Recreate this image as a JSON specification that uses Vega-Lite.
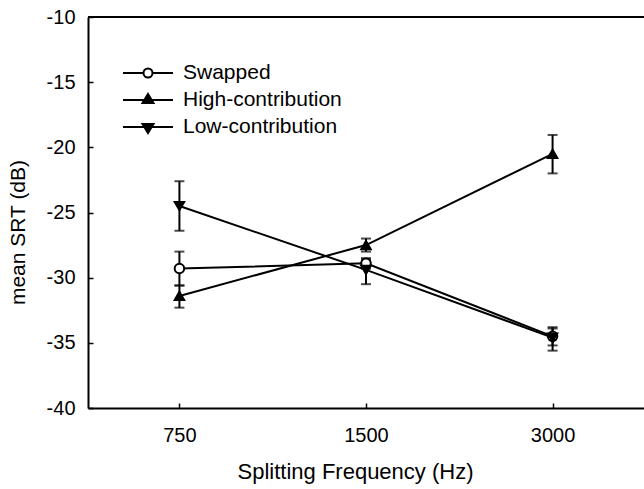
{
  "$schema": "https://vega.github.io/schema/vega-lite/v6.json",
  "width": 556,
  "height": 391,
  "autosize": {"type": "none"},
  "padding": {"left": 88, "top": 17, "right": 0, "bottom": 81},
  "background": "white",
  "config": {
    "view": {"stroke": null},
    "font": "Liberation Sans",
    "axis": {
      "domainColor": "black", "domainWidth": 2,
      "tickColor": "black", "tickWidth": 1.5, "tickSize": -5,
      "labelFont": "Liberation Sans", "labelFontSize": 20, "labelColor": "black",
      "titleFont": "Liberation Sans", "titleFontSize": 21, "titleFontWeight": "normal", "titleColor": "black",
      "grid": false
    },
    "legend": {
      "labelFont": "Liberation Sans", "labelFontSize": 21, "labelColor": "black",
      "symbolSize": 400, "symbolStrokeWidth": 2, "symbolStrokeColor": "black",
      "symbolFillColor": "transparent", "symbolOpacity": 1,
      "labelOffset": 24, "rowPadding": 6, "padding": 0
    }
  },
  "data": {
    "values": [
      {"series": "Swapped", "freq": 750, "mean": -29.3, "lo": -30.6, "hi": -28.0},
      {"series": "Swapped", "freq": 1500, "mean": -28.9, "lo": -29.3, "hi": -28.5},
      {"series": "Swapped", "freq": 3000, "mean": -34.5, "lo": -35.2, "hi": -33.8},
      {"series": "High-contribution", "freq": 750, "mean": -31.4, "lo": -32.3, "hi": -30.6},
      {"series": "High-contribution", "freq": 1500, "mean": -27.5, "lo": -28.0, "hi": -27.0},
      {"series": "High-contribution", "freq": 3000, "mean": -20.5, "lo": -22.0, "hi": -19.05},
      {"series": "Low-contribution", "freq": 750, "mean": -24.5, "lo": -26.4, "hi": -22.6},
      {"series": "Low-contribution", "freq": 1500, "mean": -29.4, "lo": -30.5, "hi": -28.6},
      {"series": "Low-contribution", "freq": 3000, "mean": -34.6, "lo": -35.6, "hi": -33.9}
    ]
  },
  "resolve": {"scale": {"shape": "independent"}},
  "layer": [
    {
      "mark": {"type": "rule", "color": "black", "strokeWidth": 2},
      "encoding": {
        "x": {"field": "freq", "type": "ordinal", "scale": {"type": "point", "padding": 0.49},
              "axis": {"title": "Splitting Frequency (Hz)", "labelAngle": 0, "labelPadding": 22, "titlePadding": 16,
                       "titleFontSize": 22, "titleX": 267,
                       "encode": {"ticks": {"y2": {"value": -5}}}}},
        "y": {"field": "lo", "type": "quantitative", "title": "mean SRT (dB)", "scale": {"domain": [-40, -10], "nice": false},
              "axis": {"values": [-40, -35, -30, -25, -20, -15, -10], "labelExpr": "toString(datum.value)", "labelPadding": 18, "titlePadding": 18,
                       "titleY": 215,
                       "encode": {"ticks": {"x2": {"value": 5}}}}},
        "y2": {"field": "hi"}
      }
    },
    {
      "mark": {"type": "tick", "color": "black", "thickness": 2, "size": 10},
      "encoding": {
        "x": {"field": "freq", "type": "ordinal"},
        "y": {"field": "lo", "type": "quantitative", "title": "mean SRT (dB)"}
      }
    },
    {
      "mark": {"type": "tick", "color": "black", "thickness": 2, "size": 10},
      "encoding": {
        "x": {"field": "freq", "type": "ordinal"},
        "y": {"field": "hi", "type": "quantitative", "title": "mean SRT (dB)"}
      }
    },
    {
      "mark": {"type": "line", "color": "black", "strokeWidth": 2},
      "encoding": {
        "x": {"field": "freq", "type": "ordinal"},
        "y": {"field": "mean", "type": "quantitative", "title": "mean SRT (dB)"},
        "detail": {"field": "series", "type": "nominal"}
      }
    },
    {
      "mark": {"type": "point", "filled": true, "stroke": "black", "strokeWidth": 2, "size": 90, "opacity": 1},
      "encoding": {
        "x": {"field": "freq", "type": "ordinal"},
        "y": {"field": "mean", "type": "quantitative", "title": "mean SRT (dB)"},
        "shape": {
          "field": "series", "type": "nominal", "legend": null,
          "scale": {"domain": ["Swapped", "High-contribution", "Low-contribution"], "range": ["circle", "triangle-up", "triangle-down"]}
        },
        "fill": {
          "field": "series", "type": "nominal", "legend": null,
          "scale": {"domain": ["Swapped", "High-contribution", "Low-contribution"], "range": ["white", "black", "black"]}
        }
      }
    },
    {
      "mark": {"type": "point", "filled": false, "color": "black", "strokeWidth": 2, "opacity": 0},
      "encoding": {
        "x": {"field": "freq", "type": "ordinal"},
        "y": {"field": "mean", "type": "quantitative", "title": "mean SRT (dB)"},
        "shape": {
          "field": "series", "type": "nominal",
          "scale": {
            "domain": ["Swapped", "High-contribution", "Low-contribution"],
            "range": [
              "M-2.5,0H-0.45M0.45,0H2.5M-0.45,0A0.45,0.45 0 1,0 0.45,0A0.45,0.45 0 1,0 -0.45,0Z",
              "M-2.5,0H2.5M0,-0.6L0.55,0.3L-0.55,0.3ZM0,-0.42L0.385,0.21L-0.385,0.21ZM0,-0.24L0.22,0.12L-0.22,0.12ZM0,-0.072L0.066,0.036L-0.066,0.036Z",
              "M-2.5,0H2.5M0,0.6L0.55,-0.3L-0.55,-0.3ZM0,0.42L0.385,-0.21L-0.385,-0.21ZM0,0.24L0.22,-0.12L-0.22,-0.12ZM0,0.072L0.066,-0.036L-0.066,-0.036Z"
            ]
          },
          "legend": {"orient": "none", "legendX": 49, "legendY": 45, "title": null, "symbolOpacity": 1}
        }
      }
    },
    {
      "mark": {"type": "rule", "color": "black", "strokeWidth": 2},
      "encoding": {
        "y": {"datum": -10, "type": "quantitative"}
      }
    }
  ]
}
